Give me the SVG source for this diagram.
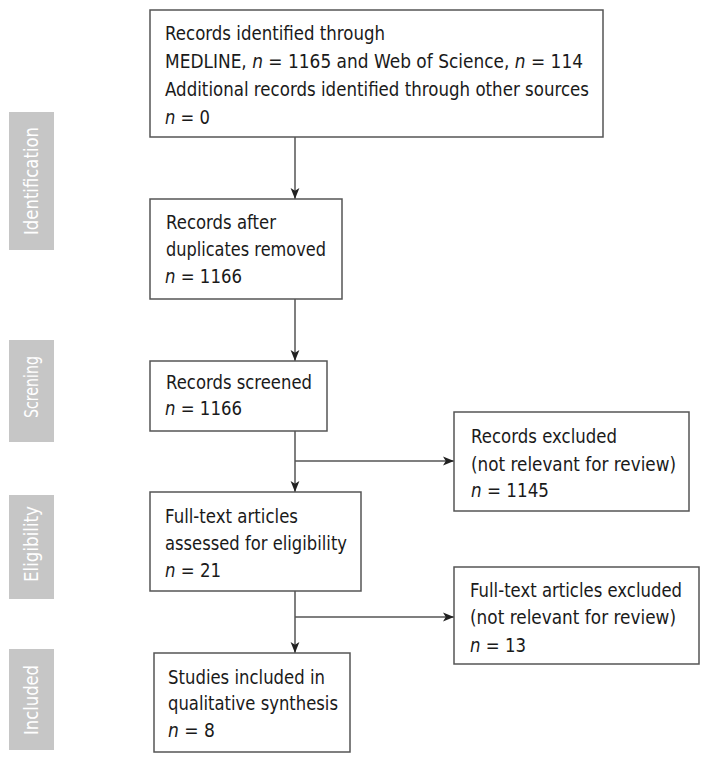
<svg xmlns="http://www.w3.org/2000/svg" width="708" height="762" viewBox="0 0 708 762">
<style>
.box{fill:#fff;stroke:#555;stroke-width:1.5}
.t{font-family:"DejaVu Sans",Verdana,sans-serif;font-size:19px;fill:#1a1a1a}
.side{fill:#c6c6c6}
.st{font-family:"DejaVu Sans",Verdana,sans-serif;font-size:19px;fill:#fff;text-anchor:middle}
.c{fill:none;stroke:#555;stroke-width:1.5}
</style>
<defs>
<marker id="ah" viewBox="0 0 10 10" refX="10" refY="5" markerWidth="11" markerHeight="11" markerUnits="userSpaceOnUse" orient="auto">
<path d="M0,1 L10,5 L0,9 L2.5,5 Z" fill="#222"/>
</marker>
</defs>
<rect width="708" height="762" fill="#fff"/>
<g id="side-identification"><rect class="side" x="9" y="112" width="45" height="138"/><text class="st" transform="translate(38,181) rotate(-90)" textLength="108" lengthAdjust="spacingAndGlyphs">Identification</text></g>
<g id="side-screening"><rect class="side" x="9" y="340" width="45" height="102"/><text class="st" transform="translate(38,387) rotate(-90)" textLength="62" lengthAdjust="spacingAndGlyphs">Screning</text></g>
<g id="side-eligibility"><rect class="side" x="9" y="495" width="45" height="104"/><text class="st" transform="translate(38,544) rotate(-90)" textLength="76" lengthAdjust="spacingAndGlyphs">Eligibility</text></g>
<g id="side-included"><rect class="side" x="9" y="649" width="45" height="101"/><text class="st" transform="translate(38,700) rotate(-90)" textLength="70" lengthAdjust="spacingAndGlyphs">Included</text></g>

<g id="connectors">
<line class="c" x1="295" y1="137" x2="295" y2="199" marker-end="url(#ah)"/>
<line class="c" x1="295" y1="299" x2="295" y2="361" marker-end="url(#ah)"/>
<line class="c" x1="295" y1="431" x2="295" y2="492" marker-end="url(#ah)"/>
<line class="c" x1="295" y1="461" x2="454" y2="461" marker-end="url(#ah)"/>
<line class="c" x1="295" y1="591" x2="295" y2="653" marker-end="url(#ah)"/>
<line class="c" x1="295" y1="617" x2="454" y2="617" marker-end="url(#ah)"/>
</g>

<g id="n1"><rect class="box" x="150" y="10" width="453" height="127"/>
<text class="t" x="165" y="40" textLength="220" lengthAdjust="spacingAndGlyphs">Records identified through</text>
<text class="t" x="165" y="68" textLength="418" lengthAdjust="spacingAndGlyphs">MEDLINE, <tspan font-style="italic">n</tspan> = 1165 and Web of Science, <tspan font-style="italic">n</tspan> = 114</text>
<text class="t" x="165" y="96" textLength="424" lengthAdjust="spacingAndGlyphs">Additional records identified through other sources</text>
<text class="t" x="165" y="124" textLength="45" lengthAdjust="spacingAndGlyphs"><tspan font-style="italic">n</tspan> = 0</text></g>

<g id="n2"><rect class="box" x="150" y="199" width="192" height="100"/>
<text class="t" x="166" y="229" textLength="110" lengthAdjust="spacingAndGlyphs">Records after</text>
<text class="t" x="166" y="256" textLength="160" lengthAdjust="spacingAndGlyphs">duplicates removed</text>
<text class="t" x="165" y="283" textLength="77" lengthAdjust="spacingAndGlyphs"><tspan font-style="italic">n</tspan> = 1166</text></g>

<g id="n3"><rect class="box" x="150" y="361" width="177" height="70"/>
<text class="t" x="166" y="389" textLength="146" lengthAdjust="spacingAndGlyphs">Records screened</text>
<text class="t" x="165" y="415" textLength="77" lengthAdjust="spacingAndGlyphs"><tspan font-style="italic">n</tspan> = 1166</text></g>

<g id="n4"><rect class="box" x="454" y="412" width="235" height="99"/>
<text class="t" x="471" y="443" textLength="146" lengthAdjust="spacingAndGlyphs">Records excluded</text>
<text class="t" x="471" y="471" textLength="205" lengthAdjust="spacingAndGlyphs">(not relevant for review)</text>
<text class="t" x="471" y="497" textLength="78" lengthAdjust="spacingAndGlyphs"><tspan font-style="italic">n</tspan> = 1145</text></g>

<g id="n5"><rect class="box" x="150" y="492" width="211" height="99"/>
<text class="t" x="165" y="523" textLength="133" lengthAdjust="spacingAndGlyphs">Full-text articles</text>
<text class="t" x="165" y="550" textLength="182" lengthAdjust="spacingAndGlyphs">assessed for eligibility</text>
<text class="t" x="165" y="577" textLength="56" lengthAdjust="spacingAndGlyphs"><tspan font-style="italic">n</tspan> = 21</text></g>

<g id="n6"><rect class="box" x="454" y="567" width="245" height="97"/>
<text class="t" x="470" y="597" textLength="212" lengthAdjust="spacingAndGlyphs">Full-text articles excluded</text>
<text class="t" x="470" y="624" textLength="206" lengthAdjust="spacingAndGlyphs">(not relevant for review)</text>
<text class="t" x="470" y="652" textLength="56" lengthAdjust="spacingAndGlyphs"><tspan font-style="italic">n</tspan> = 13</text></g>

<g id="n7"><rect class="box" x="154" y="653" width="196" height="99"/>
<text class="t" x="168" y="684" textLength="157" lengthAdjust="spacingAndGlyphs">Studies included in</text>
<text class="t" x="168" y="710" textLength="170" lengthAdjust="spacingAndGlyphs">qualitative synthesis</text>
<text class="t" x="168" y="737" textLength="47" lengthAdjust="spacingAndGlyphs"><tspan font-style="italic">n</tspan> = 8</text></g>
</svg>
